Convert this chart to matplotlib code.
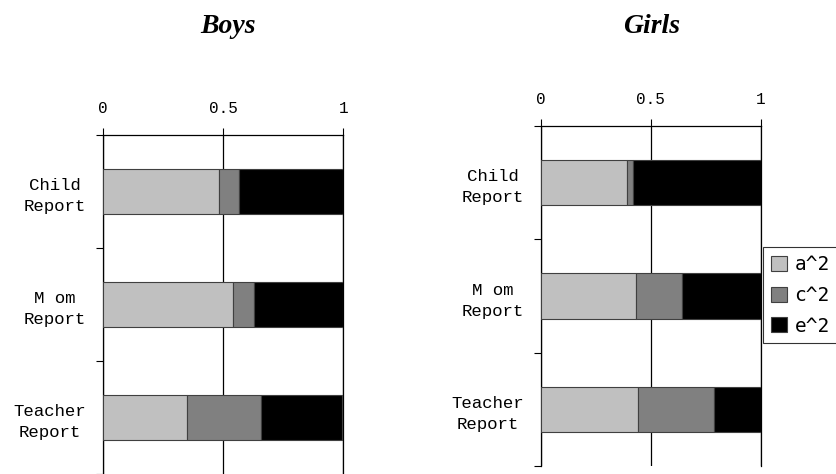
import numpy as np
import matplotlib
matplotlib.use('Agg')
import matplotlib.pyplot as plt
from matplotlib.patches import Patch

# data
reports = ['Child\nReport', 'M om\nReport', 'Teacher\nReport']
components = ['a^2', 'c^2', 'e^2']
boys_a = [0.482, 0.542, 0.350]
boys_c = [0.085, 0.087, 0.307]
boys_e = [0.433, 0.371, 0.338]
girls_a = [0.391, 0.434, 0.443]
girls_c = [0.029, 0.208, 0.346]
girls_e = [0.580, 0.358, 0.211]

colors = ['#c0c0c0', '#808080', '#000000']
mono = 'Liberation Mono'

fig = plt.figure(figsize=(8.37, 4.74), dpi=100)
ax1 = fig.add_axes([0.123, 0.0, 0.287, 0.715])
ax2 = fig.add_axes([0.646, 0.017, 0.263, 0.717])


def draw(ax, a, c, e):
    y = np.arange(len(reports))
    left = np.zeros(len(reports))
    for vals, col in zip([a, c, e], colors):
        ax.barh(y, vals, left=left, height=0.4, color=col,
                edgecolor='#404040', linewidth=0.8, zorder=3)
        left = left + np.array(vals)
    ax.set_xlim(0, 1)
    ax.set_ylim(len(reports) - 0.5, -0.5)
    ax.xaxis.tick_top()
    ax.set_xticks([0, 0.5, 1])
    ax.set_xticklabels(['0', '0.5', '1'], family=mono, fontsize=11.5)
    ax.tick_params(axis='x', direction='out', length=5, pad=9, width=0.8)
    ax.set_yticks(y)
    ax.set_yticklabels(reports, family=mono, fontsize=12.5,
                       multialignment='center', linespacing=1.5)
    ax.set_yticks(np.arange(len(reports) + 1) - 0.5, minor=True)
    ax.tick_params(axis='y', which='major', length=0, pad=12)
    ax.tick_params(axis='y', which='minor', direction='out', length=5, width=0.8)
    ax.xaxis.grid(True, color='black', linewidth=0.9, zorder=0)
    ax.spines['bottom'].set_visible(False)
    for s in ['top', 'left', 'right']:
        ax.spines[s].set_linewidth(0.9)
        ax.spines[s].set_color('black')


draw(ax1, boys_a, boys_c, boys_e)
draw(ax2, girls_a, girls_c, girls_e)

fig.text(0.272, 0.945, 'Boys', family='Liberation Serif', style='italic',
         weight='bold', fontsize=20, ha='center', va='center')
fig.text(0.779, 0.945, 'Girls', family='Liberation Serif', style='italic',
         weight='bold', fontsize=20, ha='center', va='center')

handles = [Patch(facecolor=col, edgecolor='#404040', linewidth=0.8) for col in colors]
leg = fig.legend(handles, components, loc='upper left', bbox_to_anchor=(0.912, 0.478),
                 prop={'family': 'DejaVu Sans Mono', 'size': 14}, frameon=True,
                 fancybox=False, edgecolor='black', handlelength=0.8, handleheight=0.8,
                 handletextpad=0.4, borderpad=0.4, labelspacing=0.6, borderaxespad=0)
leg.get_frame().set_linewidth(0.8)

fig.savefig('out.png', dpi=100)
